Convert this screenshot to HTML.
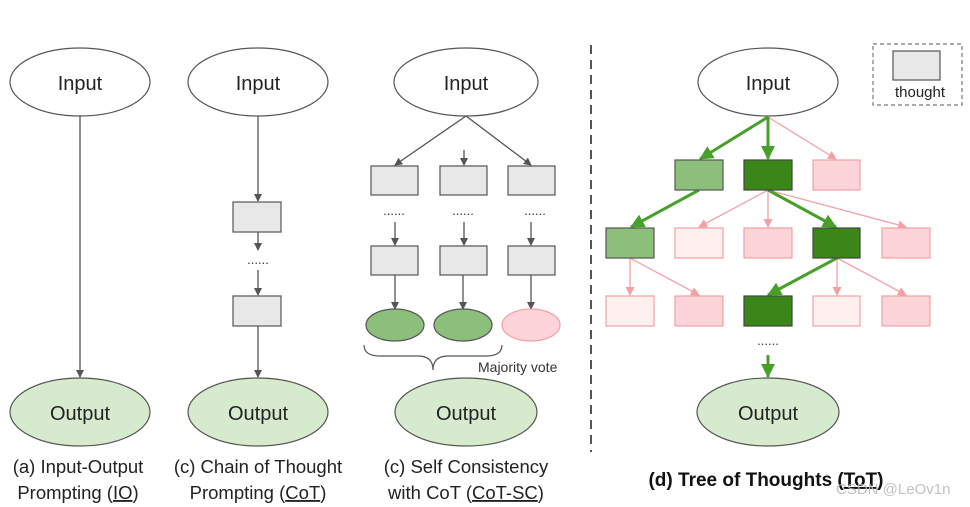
<!DOCTYPE html>
<html><head><meta charset="utf-8"><style>
html,body{margin:0;padding:0;background:#fff;}
svg{display:block;font-family:"Liberation Sans",sans-serif;}
</style></head><body>
<svg width="970" height="507" viewBox="0 0 970 507" xmlns="http://www.w3.org/2000/svg">
<defs>
<marker id="ag" markerWidth="8" markerHeight="8" refX="7" refY="4" orient="auto" markerUnits="userSpaceOnUse"><path d="M0,0 L8,4 L0,8 z" fill="#555"/></marker>
<marker id="ap" markerWidth="9" markerHeight="9" refX="8" refY="4.5" orient="auto" markerUnits="userSpaceOnUse"><path d="M0,0 L9,4.5 L0,9 z" fill="#f5a0a4"/></marker>
<marker id="aG" markerWidth="14" markerHeight="14" refX="13" refY="7" orient="auto" markerUnits="userSpaceOnUse"><path d="M0,0 L14,7 L0,14 z" fill="#47a02a"/></marker>
</defs>
<g stroke="#555" stroke-width="1.2" fill="#fff">
<ellipse cx="80" cy="82" rx="70" ry="34"/>
<ellipse cx="258" cy="82" rx="70" ry="34"/>
<ellipse cx="466" cy="82" rx="72" ry="34"/>
<ellipse cx="768" cy="82" rx="70" ry="34"/>
</g>
<g stroke="#555" stroke-width="1.2" fill="#d6eacd">
<ellipse cx="80" cy="412" rx="70" ry="34"/>
<ellipse cx="258" cy="412" rx="70" ry="34"/>
<ellipse cx="466" cy="412" rx="71" ry="34"/>
<ellipse cx="768" cy="412" rx="71" ry="34"/>
</g>
<g font-size="20" fill="#222" text-anchor="middle">
<text x="80" y="90">Input</text><text x="258" y="90">Input</text><text x="466" y="90">Input</text><text x="768" y="90">Input</text>
<text x="80" y="420">Output</text><text x="258" y="420">Output</text><text x="466" y="420">Output</text><text x="768" y="420">Output</text>
</g>
<!-- a -->
<g stroke="#555" stroke-width="1.3" fill="none">
<line x1="80" y1="116" x2="80" y2="377" marker-end="url(#ag)"/>
<line x1="258" y1="116" x2="258" y2="201" marker-end="url(#ag)"/>
<line x1="258" y1="232" x2="258" y2="250" marker-end="url(#ag)"/>
<line x1="258" y1="270" x2="258" y2="295" marker-end="url(#ag)"/>
<line x1="258" y1="326" x2="258" y2="377" marker-end="url(#ag)"/>
<line x1="466" y1="116" x2="395" y2="165" marker-end="url(#ag)"/>
<line x1="464" y1="150" x2="464" y2="165" marker-end="url(#ag)"/>
<line x1="466" y1="116" x2="531" y2="165" marker-end="url(#ag)"/>
<line x1="395" y1="222" x2="395" y2="245" marker-end="url(#ag)"/>
<line x1="464" y1="222" x2="464" y2="245" marker-end="url(#ag)"/>
<line x1="531" y1="222" x2="531" y2="245" marker-end="url(#ag)"/>
<line x1="395" y1="275" x2="395" y2="309" marker-end="url(#ag)"/>
<line x1="463" y1="275" x2="463" y2="309" marker-end="url(#ag)"/>
<line x1="531" y1="275" x2="531" y2="309" marker-end="url(#ag)"/>
<path d="M364,345 Q364,356 380,356 L418,356 Q433,356 433,370 Q433,356 448,356 L486,356 Q502,356 502,345" stroke-width="1.2"/>
</g>
<g fill="#e8e8e8" stroke="#555" stroke-width="1.2">
<rect x="233" y="202" width="48" height="30"/><rect x="233" y="296" width="48" height="30"/>
<rect x="371" y="166" width="47" height="29"/><rect x="440" y="166" width="47" height="29"/><rect x="508" y="166" width="47" height="29"/>
<rect x="371" y="246" width="47" height="29"/><rect x="440" y="246" width="47" height="29"/><rect x="508" y="246" width="47" height="29"/>
<rect x="893" y="51" width="47" height="29"/>
</g>
<g font-size="13" fill="#333" text-anchor="middle">
<text x="258" y="264">......</text><text x="394" y="215">......</text><text x="463" y="215">......</text><text x="535" y="215">......</text><text x="768" y="345">......</text>
</g>
<ellipse cx="395" cy="325" rx="29" ry="16" fill="#8cc07a" stroke="#555" stroke-width="1.2"/>
<ellipse cx="463" cy="325" rx="29" ry="16" fill="#8cc07a" stroke="#555" stroke-width="1.2"/>
<ellipse cx="531" cy="325" rx="29" ry="16" fill="#fdd5d8" stroke="#f5a0a4" stroke-width="1.2"/>
<text x="478" y="372" font-size="14" fill="#333">Majority vote</text>
<line x1="591" y1="45" x2="591" y2="452" stroke="#555" stroke-width="2" stroke-dasharray="9,6"/>
<rect x="873" y="44" width="89" height="61" fill="none" stroke="#777" stroke-width="1.2" stroke-dasharray="4,3"/>
<text x="920" y="97" font-size="15" fill="#222" text-anchor="middle">thought</text>
<!-- ToT pink arrows -->
<g stroke="#f5a0a4" stroke-width="1.3" fill="none" marker-end="url(#ap)">
<line x1="768" y1="117" x2="836" y2="159"/>
<line x1="768" y1="190" x2="699" y2="227"/>
<line x1="768" y1="190" x2="768" y2="227"/>
<line x1="768" y1="190" x2="906" y2="227"/>
<line x1="630" y1="258" x2="630" y2="295"/>
<line x1="630" y1="258" x2="699" y2="295"/>
<line x1="837" y1="258" x2="837" y2="295"/>
<line x1="837" y1="258" x2="906" y2="295"/>
</g>
<g stroke="#47a02a" stroke-width="3" fill="none" marker-end="url(#aG)">
<line x1="768" y1="117" x2="700" y2="159"/>
<line x1="768" y1="117" x2="768" y2="159"/>
<line x1="699" y1="190" x2="631" y2="227"/>
<line x1="768" y1="190" x2="836" y2="227"/>
<line x1="837" y1="258" x2="768" y2="295"/>
<line x1="768" y1="355" x2="768" y2="377"/>
</g>
<g stroke-width="1.2">
<rect x="675" y="160" width="48" height="30" fill="#8cc07a" stroke="#555"/>
<rect x="744" y="160" width="48" height="30" fill="#3a8619" stroke="#444"/>
<rect x="813" y="160" width="47" height="30" fill="#fdd5d8" stroke="#f5a0a4"/>
<rect x="606" y="228" width="48" height="30" fill="#8cc07a" stroke="#555"/>
<rect x="675" y="228" width="48" height="30" fill="#fff0f0" stroke="#f5a0a4"/>
<rect x="744" y="228" width="48" height="30" fill="#fdd5d8" stroke="#f5a0a4"/>
<rect x="813" y="228" width="47" height="30" fill="#3a8619" stroke="#444"/>
<rect x="882" y="228" width="48" height="30" fill="#fdd5d8" stroke="#f5a0a4"/>
<rect x="606" y="296" width="48" height="30" fill="#fff0f0" stroke="#f5a0a4"/>
<rect x="675" y="296" width="48" height="30" fill="#fdd5d8" stroke="#f5a0a4"/>
<rect x="744" y="296" width="48" height="30" fill="#3a8619" stroke="#444"/>
<rect x="813" y="296" width="47" height="30" fill="#fff0f0" stroke="#f5a0a4"/>
<rect x="882" y="296" width="48" height="30" fill="#fdd5d8" stroke="#f5a0a4"/>
</g>
<g font-size="18.5" fill="#222" text-anchor="middle">
<text x="78" y="473">(a) Input-Output</text>
<text x="78" y="499">Prompting (<tspan text-decoration="underline">IO</tspan>)</text>
<text x="258" y="473">(c) Chain of Thought</text>
<text x="258" y="499">Prompting (<tspan text-decoration="underline">CoT</tspan>)</text>
<text x="466" y="473">(c) Self Consistency</text>
<text x="466" y="499">with CoT (<tspan text-decoration="underline">CoT-SC</tspan>)</text>
</g>
<text x="766" y="486" font-size="19" font-weight="bold" fill="#111" text-anchor="middle">(d) Tree of Thoughts (<tspan text-decoration="underline">ToT</tspan>)</text>
<text x="836" y="494" font-size="15" fill="#bbb" opacity="0.9">CSDN @LeOv1n</text>
</svg>
</body></html>
